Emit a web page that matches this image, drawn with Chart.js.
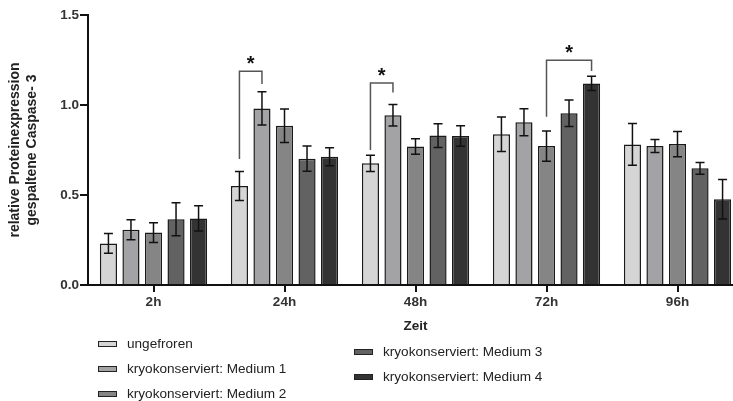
<!DOCTYPE html>
<html>
<head>
<meta charset="utf-8">
<script src="https://cdn.jsdelivr.net/npm/chart.js@4.4.1/dist/chart.umd.min.js"></script>
<style>
    html, body { margin: 0; padding: 0; background: #fff; overflow: hidden; width: 733px; height: 401px; }
    #wrap { position: relative; width: 733px; height: 401px; overflow: hidden; }
    #chart { position: absolute; left: 0; top: 0; }
    .leg { position: absolute; font-family: "Liberation Sans", Arial, sans-serif; font-size: 13.6px; color: #222; white-space: nowrap; }
    .leg span.sw { position: absolute; left: 0; width: 17px; height: 4px; border: 1px solid #222; }
    .leg span.tx { position: absolute; left: 29px; top: -9px; line-height: 18px; }
</style>
</head>
<body>
<div id="wrap">
    <canvas id="chart" width="760" height="401"></canvas>
    <div id="legend"></div>
</div>
<script>
// Data
const categories = ['2h', '24h', '48h', '72h', '96h'];
const seriesNames = ['ungefroren', 'kryokonserviert: Medium 1', 'kryokonserviert: Medium 2', 'kryokonserviert: Medium 3', 'kryokonserviert: Medium 4'];
const ungefroren = [0.231, 0.550, 0.676, 0.837, 0.781];
const medium1 = [0.307, 0.981, 0.943, 0.904, 0.772];
const medium2 = [0.291, 0.885, 0.770, 0.772, 0.783];
const medium3 = [0.365, 0.702, 0.830, 0.954, 0.648];
const medium4 = [0.370, 0.713, 0.828, 1.120, 0.476];
const errUngefroren = [0.055, 0.080, 0.045, 0.096, 0.116];
const errMedium1 = [0.055, 0.092, 0.060, 0.075, 0.036];
const errMedium2 = [0.055, 0.093, 0.043, 0.084, 0.070];
const errMedium3 = [0.092, 0.070, 0.066, 0.074, 0.033];
const errMedium4 = [0.070, 0.050, 0.057, 0.040, 0.110];
const yTicks = [0, 0.5, 1.0, 1.5];
// significance brackets: category index, from series, to series, leg ends and top (in y units)
const brackets = [
    { cat: 1, from: 0, to: 1, left: 0.70, right: 1.117, top: 1.187 },
    { cat: 2, from: 0, to: 1, left: 0.75, right: 1.07, top: 1.122 },
    { cat: 3, from: 2, to: 4, left: 0.935, right: 1.189, top: 1.248 }
];

const values = [ungefroren, medium1, medium2, medium3, medium4];
const errors = [errUngefroren, errMedium1, errMedium2, errMedium3, errMedium4];
const colors = ['#d5d5d5', '#a3a3a6', '#858585', '#626262', '#333333'];
const FONT = '"Liberation Sans", Arial, sans-serif';

// Error bars + brackets drawn from the scales
const errorBarPlugin = {
    id: 'errorBars',
    afterDatasetsDraw(chart) {
        const ctx = chart.ctx;
        const y = chart.scales.y;
        ctx.save();
        ctx.strokeStyle = '#111';
        ctx.lineWidth = 1.5;
        values.forEach((series, i) => {
            const meta = chart.getDatasetMeta(i);
            meta.data.forEach((bar, j) => {
                const hi = y.getPixelForValue(series[j] + errors[i][j]);
                const lo = y.getPixelForValue(series[j] - errors[i][j]);
                ctx.beginPath();
                ctx.moveTo(bar.x, hi); ctx.lineTo(bar.x, lo);
                ctx.moveTo(bar.x - 4.5, hi); ctx.lineTo(bar.x + 4.5, hi);
                ctx.moveTo(bar.x - 4.5, lo); ctx.lineTo(bar.x + 4.5, lo);
                ctx.stroke();
            });
        });

        ctx.strokeStyle = '#555';
        ctx.fillStyle = '#111';
        ctx.font = 'bold 20px ' + FONT;
        ctx.textAlign = 'center';
        ctx.textBaseline = 'alphabetic';
        brackets.forEach(b => {
            const x1 = chart.getDatasetMeta(b.from).data[b.cat].x;
            const x2 = chart.getDatasetMeta(b.to).data[b.cat].x;
            const top = y.getPixelForValue(b.top);
            ctx.beginPath();
            ctx.moveTo(x1, y.getPixelForValue(b.left));
            ctx.lineTo(x1, top);
            ctx.lineTo(x2, top);
            ctx.lineTo(x2, y.getPixelForValue(b.right));
            ctx.stroke();
            ctx.fillText('*', (x1 + x2) / 2, top - 1);
        });
        ctx.restore();
    }
};

new Chart(document.getElementById('chart'), {
    type: 'bar',
    data: {
        labels: categories,
        datasets: values.map((v, i) => ({
            label: seriesNames[i],
            data: v,
            backgroundColor: colors[i],
            borderColor: '#1a1a1a',
            borderWidth: 1.5,
            barPercentage: 0.76,
            categoryPercentage: 0.86
        }))
    },
    options: {
        responsive: false,
        animation: false,
        layout: { padding: { left: 0, right: 17, top: 15, bottom: 0 } },
        plugins: { legend: { display: false }, tooltip: { enabled: false } },
        scales: {
            x: {
                offset: true,
                grid: { drawOnChartArea: false, drawTicks: true, tickLength: 7, color: '#111', lineWidth: 2, offset: false },
                border: { color: '#111', width: 2 },
                ticks: { color: '#333', font: { family: FONT, size: 13.5, weight: 'bold' }, padding: 2 },
                title: { display: true, text: 'Zeit', color: '#222', font: { family: FONT, size: 13.5, weight: 'bold' }, padding: { top: 0, bottom: 67 } },
                afterFit: s => { s.height = 116; }
            },
            y: {
                min: 0,
                max: 1.5,
                afterBuildTicks: s => { s.ticks = yTicks.map(v => ({ value: v })); },
                grid: { drawOnChartArea: false, drawTicks: true, tickLength: 8, color: '#111', lineWidth: 2 },
                border: { color: '#111', width: 2 },
                ticks: { color: '#333', font: { family: FONT, size: 13.5, weight: 'bold' }, padding: 1, callback: v => Number(v).toFixed(1) },
                title: { display: true, text: ['relative Proteinexpression', 'gespaltene Caspase- 3'], color: '#222', font: { family: FONT, size: 14, weight: 'bold', lineHeight: 1.2 }, padding: { top: 6.6, bottom: 0 } },
                afterFit: s => { s.width = 88; }
            }
        }
    },
    plugins: [errorBarPlugin]
});

// Legend (two columns as in the figure)
const legendSpots = [
    { x: 98, y: 343.5 }, { x: 98, y: 369 }, { x: 98, y: 393.5 },
    { x: 354, y: 351.7 }, { x: 354, y: 377.3 }
];
const legend = document.getElementById('legend');
seriesNames.forEach((name, i) => {
    const item = document.createElement('div');
    item.className = 'leg';
    item.style.left = legendSpots[i].x + 'px';
    item.style.top = legendSpots[i].y + 'px';
    item.innerHTML = `<span class="sw" style="background:${colors[i]}; top:-3px;"></span><span class="tx">${name}</span>`;
    legend.appendChild(item);
});
</script>
</body>
</html>
